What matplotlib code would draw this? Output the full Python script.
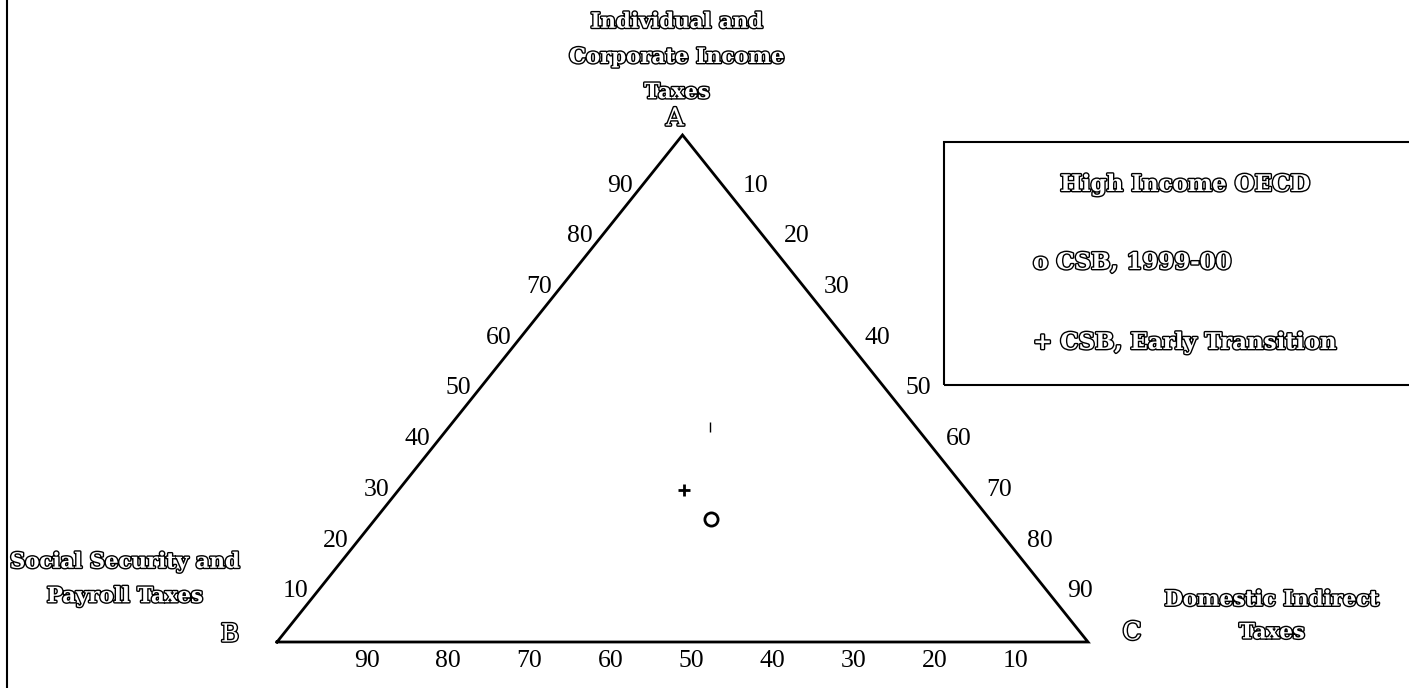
import matplotlib
matplotlib.use("Agg")
import matplotlib.pyplot as plt
import matplotlib.patheffects as pe
from matplotlib.patches import Rectangle
from matplotlib.lines import Line2D

# ternary shares (%) : A = income taxes, B = social security, C = indirect taxes
ticks = [10, 20, 30, 40, 50, 60, 70, 80, 90]
pts_1999 = {"a": [24.2], "b": [34.4], "c": [41.4]}
pts_early = {"a": [30.0], "b": [34.8], "c": [35.2]}
pts_faint = {"a": [42.5], "b": [25.4], "c": [32.1]}

label_a = "Individual and\nCorporate Income\nTaxes"
label_b = "Social Security and\nPayroll Taxes"
label_c = "Domestic Indirect\nTaxes"
legend_title = "High Income OECD"
legend_items = ["o CSB, 1999-00", "+ CSB, Early Transition"]

W, H = 1409, 688


def tern(a, b, c):
    # B=(0,0), C=(1,0), A=(0.5,1)
    s = a + b + c
    return c / s + 0.5 * a / s, a / s


fig = plt.figure(figsize=(W / 100, H / 100), dpi=100)
ax = fig.add_axes([277 / W, (H - 642) / H, 811 / W, 507 / H])
ax.set_xlim(0, 1)
ax.set_ylim(0, 1)
ax.axis("off")

hollow = [pe.withStroke(linewidth=2.0, foreground="black")]
big = dict(family="DejaVu Serif", fontweight="bold", fontsize=15.3, color="white",
           path_effects=hollow)
leg = dict(big, fontsize=16.5)
letter = dict(big, fontsize=18, fontweight="normal")
num = dict(family="Liberation Serif", fontsize=18.5, color="black")

# triangle
vx = [tern(0, 1, 0)[0], tern(1, 0, 0)[0], tern(0, 0, 1)[0], tern(0, 1, 0)[0]]
vy = [tern(0, 1, 0)[1], tern(1, 0, 0)[1], tern(0, 0, 1)[1], tern(0, 1, 0)[1]]
ax.plot(vx, vy, color="black", lw=2, clip_on=False, solid_joinstyle="miter")

# tick labels on the three edges
for v in ticks:
    f = v / 100
    # left edge (B-A): share of A
    ax.annotate(str(v), tern(f, 1 - f, 0), xytext=(-9, 0), textcoords="offset pixels",
                ha="right", va="center", **num)
    # right edge (A-C): share of C
    ax.annotate(str(v), tern(1 - f, 0, f), xytext=(20, 0), textcoords="offset pixels",
                ha="left", va="center", **num)
    # bottom edge (B-C): share of B
    ax.annotate(str(v), tern(0, f, 1 - f), xytext=(9, -19), textcoords="offset pixels",
                ha="center", va="center", **num)

# data points
x, y = tern(pts_1999["a"][0], pts_1999["b"][0], pts_1999["c"][0])
ax.plot([x], [y], "o", ms=9.5, mfc="white", mec="black", mew=2, clip_on=False)
x, y = tern(pts_early["a"][0], pts_early["b"][0], pts_early["c"][0])
ax.plot([x], [y], "+", ms=9, mec="black", mew=2, clip_on=False)
x, y = tern(pts_faint["a"][0], pts_faint["b"][0], pts_faint["c"][0])
ax.plot([x], [y], "|", ms=7, mec="black", mew=1, clip_on=False)


# vertex letters and axis names (figure pixel positions)
def ftext(px, py, s, **kw):
    fig.text(px / W, 1 - py / H, s, **kw)


ftext(675, 119, "A", ha="center", va="center", **letter)
ftext(230, 635, "B", ha="center", va="center", **letter)
ftext(1132, 633, "C", ha="center", va="center", **letter)
ftext(677, 57, label_a, ha="center", va="center", linespacing=1.95, **big)
ftext(125, 579, label_b, ha="center", va="center", linespacing=1.9, **big)
ftext(1272, 616, label_c, ha="center", va="center", linespacing=1.8, **big)

# legend box
fig.add_artist(Rectangle((944 / W, 1 - 385 / H), 600 / W, 243 / H, transform=fig.transFigure,
                         fill=False, ec="black", lw=1.5))
ftext(1185, 185, legend_title, ha="center", va="center", **leg)
ftext(1033, 263, legend_items[0], ha="left", va="center", **leg)
ftext(1033, 343, legend_items[1], ha="left", va="center", **leg)

# left page border
fig.add_artist(Line2D([7 / W, 7 / W], [0, 1], transform=fig.transFigure, color="black", lw=1.5))

fig.savefig("out.png", dpi=100)
